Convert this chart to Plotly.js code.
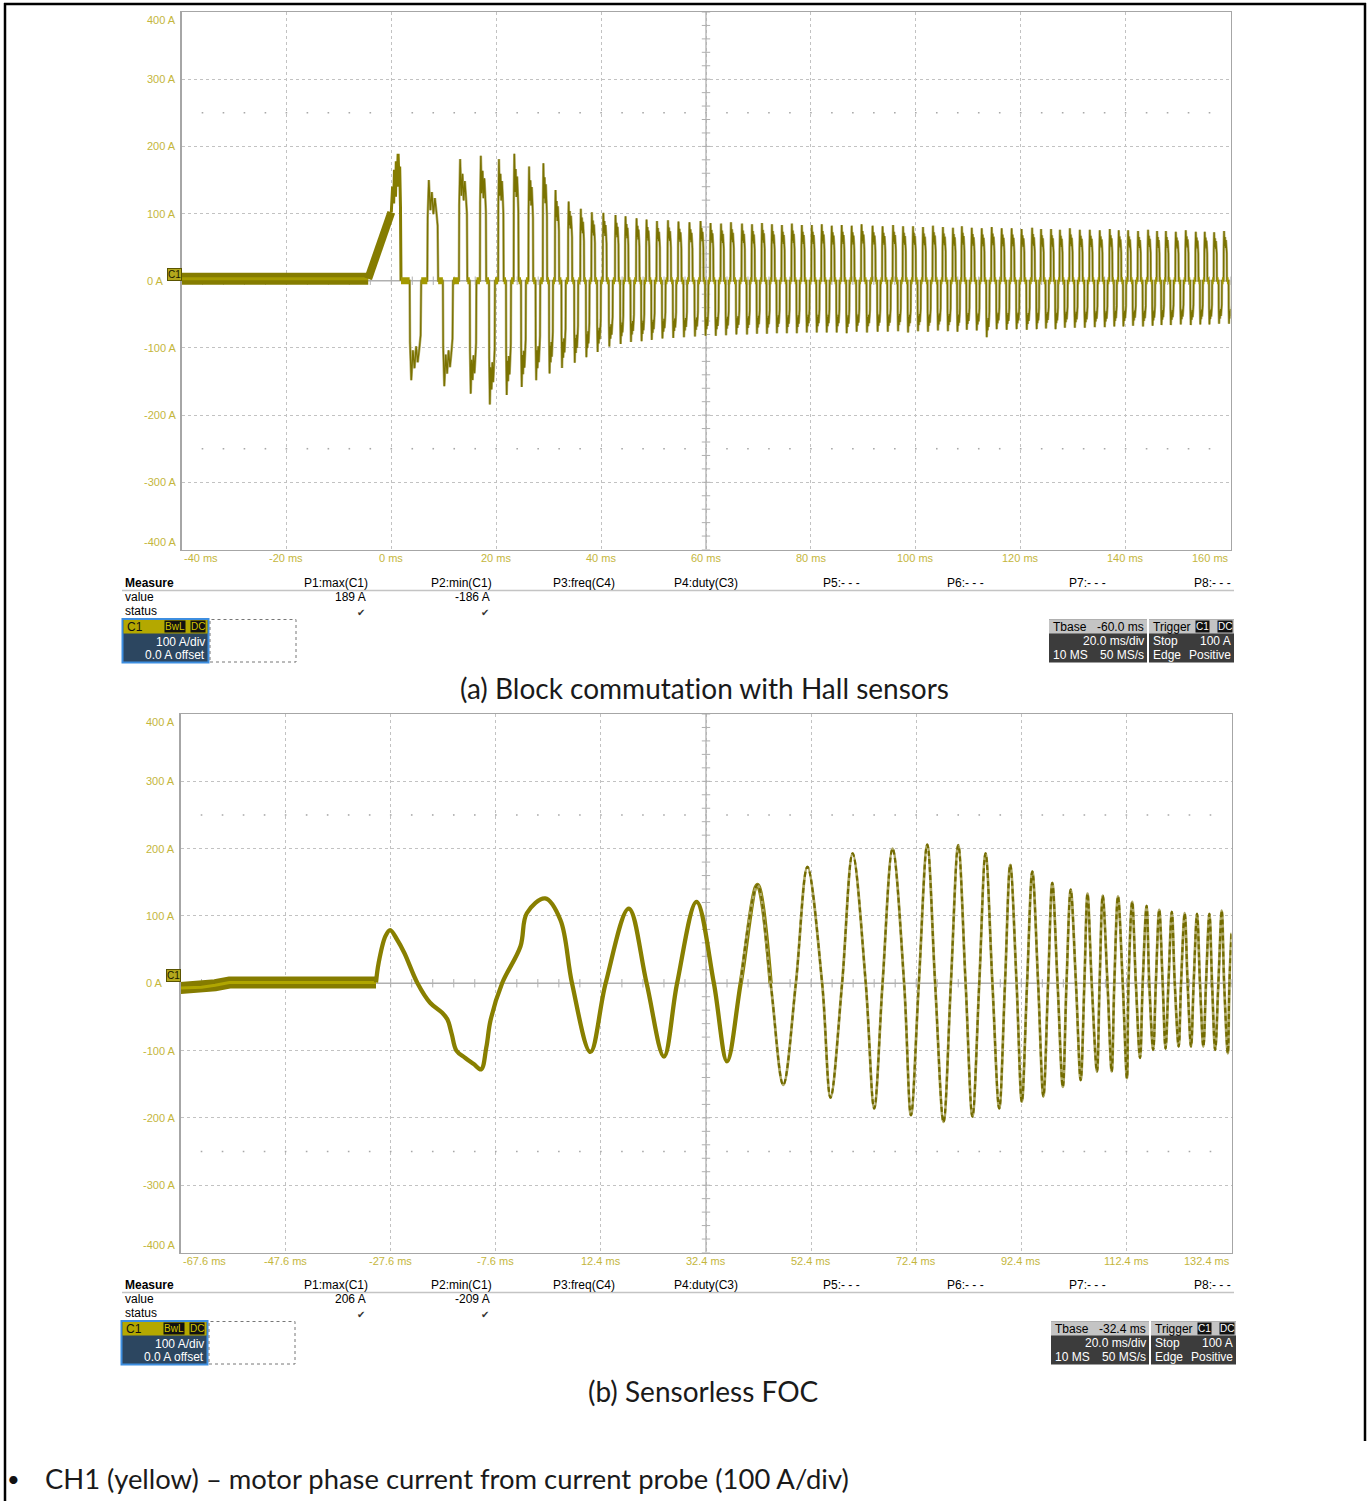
<!DOCTYPE html>
<html><head><meta charset="utf-8">
<script src="https://cdn.plot.ly/plotly-3.0.1.min.js"></script>
<style>html,body{margin:0;padding:0;background:#fff;}#chart{width:1371px;height:1501px;}
text{font-variant-ligatures:none;font-feature-settings:"liga" 0;}</style>
</head><body><div id="chart"></div>
<script>
// ================= DATA =================
// (a) Block commutation with Hall sensors  -- time in ms, current in A
const topBaseT = [-40, -4.4];
const topBaseV = [3, 3];
const topRampT = [-4.4, -3.0, -1.5, 0.0];
const topRampV = [3, 35, 68, 102];
const topBurstT = [0.0, 0.25, 0.45, 0.6, 0.8, 0.95, 1.1, 1.3, 1.45, 1.6, 1.75, 1.85];
const topBurstV = [102, 140, 115, 165, 125, 178, 140, 189, 150, 170, 110, 0];
// centre time of each positive block pulse (ms)
const blockTime = [1.3, 7.9, 13.7, 17.5, 20.9, 23.8, 26.6, 29.3, 31.6, 34.1,
  36.4, 38.5, 40.7, 43.0, 44.9, 47.0, 48.9, 50.9, 53.0, 55.0,
  57.1, 59.2, 61.1, 63.1, 65.0, 67.1, 69.0, 70.9, 72.8, 74.7,
  76.6, 78.5, 80.4, 82.3, 84.2, 86.1, 88.0, 89.9, 92.0, 93.9,
  95.9, 97.8, 99.7, 101.6, 103.5, 105.4, 107.3, 109.0, 110.9, 112.8,
  114.7, 116.6, 118.5, 120.4, 122.4, 124.1, 126.0, 127.7, 129.6, 131.5,
  133.4, 135.3, 137.2, 138.9, 140.7, 142.6, 144.5, 146.2, 147.9, 149.8,
  151.7, 153.6, 155.3, 157.1, 159.0];
// peak of each positive pulse (A)
const blockPosPeak = [189, 150, 181, 186, 181, 189, 170, 175, 135, 118,
  107, 102, 101, 98, 96, 93, 91, 89, 90, 88,
  87, 89, 86, 85, 87, 85, 84, 86, 84, 83,
  85, 83, 83, 84, 82, 83, 82, 84, 82, 81,
  83, 81, 81, 80, 82, 80, 79, 81, 79, 78,
  80, 78, 78, 77, 79, 77, 77, 76, 78, 76,
  76, 75, 77, 75, 75, 74, 76, 74, 74, 73,
  75, 73, 73, 72, 74];
// peak of the negative pulse following each positive pulse (A)
const blockNegPeak = [-148, -157, -168, -184, -170, -158, -148, -138, -130, -122,
  -114, -106, -98, -94, -91, -90, -88, -86, -85, -84,
  -83, -82, -82, -81, -80, -80, -79, -79, -78, -78,
  -78, -77, -77, -77, -77, -78, -76, -77, -76, -76,
  -75, -77, -75, -76, -74, -75, -76, -73, -74, -84,
  -72, -73, -72, -73, -72, -71, -72, -70, -70, -70,
  -69, -69, -68, -68, -67, -68, -67, -66, -66, -65,
  -66, -65, -65, -64, -64];
// typical block-pulse outline: fraction of pulse width / fraction of peak
const pulseShapeU = [0, 0.03, 0.14, 0.28, 0.42, 0.56, 0.7, 0.84, 0.95, 1];
const pulseShapeV = [0, 0.62, 1.0, 0.7, 0.88, 0.66, 0.82, 0.68, 0.55, 0];

// (b) Sensorless FOC
const focBaseT = [-67.6, -63.6, -61.0, -58.3, -30.4];
const focBaseV = [-7, -6, -3, 1, 1];
const focT = [-30.4, -29.9, -28.6, -27.7, -26.4, -25.0, -22.5, -20.1, -17.8, -16.8, -16.0, -15.1, -13.4, -11.8, -10.4, -9.4, -8.6, -6.4, -2.9, -1.7, 1.8, 4.7, 6.9,
  10.4, 13.3, 17.7, 21.1, 24.4, 26.9, 30.6, 33.9, 36.4, 39.0, 42.2, 44.7, 47.1, 49.5, 51.7, 54.5, 56.1, 58.3, 60.3, 62.8, 64.4, 66.0, 67.9, 70.1, 71.4, 72.9, 74.5,
  76.0, 77.6, 79.0, 80.4, 81.8, 83.1, 84.4, 85.6, 86.9, 88.2, 89.3, 90.3, 91.5, 92.5, 93.5, 94.5, 95.6, 96.6, 97.5, 98.3, 99.3, 100.3, 101.0, 101.8, 102.8, 103.7,
  104.4, 105.0, 105.8, 106.8, 107.3, 107.9, 108.8, 109.6, 110.1, 110.8, 111.7, 112.5, 112.8, 113.5, 114.2, 115.0, 115.5, 116.25, 116.75, 117.5, 118.0, 118.65,
  119.3, 119.85, 120.4, 121.05, 121.6, 122.35, 122.8, 123.5, 124.05, 124.7, 125.2, 125.85, 126.4, 127.05, 127.55, 128.2, 128.7, 129.3, 129.9, 130.55, 131.0, 131.7, 132.0, 132.4];
const focV = [1, 30, 70, 79, 65, 45, 0, -29, -44, -54, -75, -100, -111, -120, -128, -95, -55, 0, 55, 104, 126, 94, 0,
  -102, 0, 111, 0, -109, 0, 121, 0, -116, 0, 146, 0, -151, 0, 173, 0, -170, 0, 193, 0, -186, 0, 200, 0, -196, 0, 206,
  0, -206, 0, 205, 0, -198, 0, 193, 0, -186, 0, 176, 0, -176, 0, 166, 0, -168, 0, 149, 0, -154, 0, 139, 0, -144,
  0, 133, 0, -131, 0, 130, 0, -131, 0, 129, 0, -141, 0, 121, 0, -111, 0, 115, 0, -99, 0, 109,
  0, -97, 0, 106, 0, -94, 0, 104, 0, -94, 0, 103, 0, -94, 0, 103, 0, -99, 0, 108, 0, -104, 0, 75];

// axis ticks
const topXTicks = [-40, -20, 0, 20, 40, 60, 80, 100, 120, 140, 160];
const botXTicks = [-67.6, -47.6, -27.6, -7.6, 12.4, 32.4, 52.4, 72.4, 92.4, 112.4, 132.4];
const yTicks = [400, 300, 200, 100, 0, -100, -200, -300, -400];

// measurement panel texts
const measureHeaders = ['P1:max(C1)', 'P2:min(C1)', 'P3:freq(C4)', 'P4:duty(C3)', 'P5:- - -', 'P6:- - -', 'P7:- - -', 'P8:- - -'];
const measureTopValues = ['189 A', '-186 A'];
const measureBotValues = ['206 A', '-209 A'];
const tbaseTop = '-60.0 ms';
const tbaseBot = '-32.4 ms';
const captions = ['(a) Block commutation with Hall sensors', '(b) Sensorless FOC'];
const bulletText = 'CH1 (yellow) \u2013 motor phase current from current probe (100 A/div)';

// ================= BUILD =================
const W = 1371, H = 1501;
const fx = p => p / W, fy = p => 1 - p / H;
const FONT = '"Liberation Sans", Arial, sans-serif';
const CAPFONT = 'Lato, "Noto Sans", sans-serif';
const TICKCOL = '#c4b63c';
const DARK = '#7a7200', LIGHT = '#b8b276';
const GRIDC = '#b0b0b0';

function buildBlockWave() {
  const mx = [], my = [], zx = [], zy = [];
  const n = blockTime.length;
  let prevEnd = topBurstT[topBurstT.length - 1];
  mx.push(prevEnd); my.push(0);
  function zero(a, b) { if (b > a) { mx.push(b); my.push(0); zx.push(a, b, null); zy.push(0, 0, null); } }
  function pulse(a, b, amp) { for (let k = 0; k < pulseShapeU.length; k++) { mx.push(a + (b - a) * pulseShapeU[k]); my.push(amp * pulseShapeV[k]); } }
  for (let i = 0; i < n; i++) {
    const t = blockTime[i];
    const P = (i < n - 1) ? blockTime[i + 1] - t : t - blockTime[i - 1];
    if (i > 0) {
      const Pa = (i < n - 1) ? (blockTime[i + 1] - blockTime[i - 1]) / 2 : P;
      const s = t - Pa / 6, e = t + Pa / 6;
      zero(prevEnd, s); pulse(s, e, blockPosPeak[i]); prevEnd = e;
    }
    const c = t + P / 2, s2 = c - P / 6, e2 = c + P / 6;
    zero(prevEnd, s2); pulse(s2, e2, blockNegPeak[i]); prevEnd = e2;
  }
  return { mx, my, zx, zy };
}
const bw = buildBlockWave();

function decor(xa, ya, x0, x1, xc) {
  const tx = [], ty = [], cx = [], cy = [], dx = [], dy = [];
  for (let k = 0; k <= 50; k++) { tx.push(x0 + (x1 - x0) * k / 50); ty.push(0); }
  for (let k = 0; k <= 40; k++) { cx.push(xc); cy.push(-400 + 20 * k); }
  for (let k = 1; k < 50; k++) { const xv = x0 + (x1 - x0) * k / 50; dx.push(xv, xv); dy.push(250, -250); }
  return [
    { x: dx, y: dy, xaxis: xa, yaxis: ya, mode: 'markers', marker: { symbol: 'square', size: 1.6, color: '#a8a8a8' } },
    { x: [xc, xc], y: [-400, 400], xaxis: xa, yaxis: ya, mode: 'lines', line: { color: GRIDC, width: 1.3 } },
    { x: [x0, x1], y: [0, 0], xaxis: xa, yaxis: ya, mode: 'lines', line: { color: GRIDC, width: 1.3 } },
    { x: tx, y: ty, xaxis: xa, yaxis: ya, mode: 'markers', marker: { symbol: 'line-ns-open', size: 6, color: GRIDC, line: { color: GRIDC, width: 1 } } },
    { x: cx, y: cy, xaxis: xa, yaxis: ya, mode: 'markers', marker: { symbol: 'line-ew-open', size: 6, color: GRIDC, line: { color: GRIDC, width: 1 } } }
  ];
}

const traces = [];
traces.push(...decor('x', 'y', -40, 160, 60));
traces.push(...decor('x2', 'y2', -67.6, 132.4, 32.4));

// top waveform
traces.push({ x: topBaseT, y: topBaseV, xaxis: 'x', yaxis: 'y', mode: 'lines', line: { color: '#857c00', width: 12 } });
traces.push({ x: topBaseT, y: topBaseV, xaxis: 'x', yaxis: 'y', mode: 'lines', line: { color: '#a59b00', width: 3 } });
traces.push({ x: topRampT, y: topRampV, xaxis: 'x', yaxis: 'y', mode: 'lines', line: { color: '#857c00', width: 8 } });
traces.push({ x: topBurstT, y: topBurstV, xaxis: 'x', yaxis: 'y', mode: 'lines', line: { color: '#857c00', width: 3 } });
traces.push({ x: bw.mx, y: bw.my, xaxis: 'x', yaxis: 'y', mode: 'lines', line: { color: LIGHT, width: 2.6 } });
traces.push({ x: bw.mx, y: bw.my, xaxis: 'x', yaxis: 'y', mode: 'lines', line: { color: DARK, width: 1.3 } });
traces.push({ x: bw.zx, y: bw.zy, xaxis: 'x', yaxis: 'y', mode: 'lines', line: { color: '#a39900', width: 7 } });

// bottom waveform
traces.push({ x: focBaseT, y: focBaseV, xaxis: 'x2', yaxis: 'y2', mode: 'lines', line: { color: '#857c00', width: 12 } });
traces.push({ x: focBaseT, y: focBaseV, xaxis: 'x2', yaxis: 'y2', mode: 'lines', line: { color: '#b0a600', width: 3 } });
const split1 = focT.findIndex(t => t >= 44.7);
const split0 = focT.findIndex(t => t >= 39);
traces.push({ x: focT.slice(0, split1 + 1), y: focV.slice(0, split1 + 1), xaxis: 'x2', yaxis: 'y2', mode: 'lines', line: { color: '#887f00', width: 4.3, shape: 'spline', smoothing: 1 } });
traces.push({ x: focT.slice(split0), y: focV.slice(split0), xaxis: 'x2', yaxis: 'y2', mode: 'lines', line: { color: '#aea864', width: 2.8, shape: 'spline', smoothing: 1 } });
traces.push({ x: focT.slice(split0), y: focV.slice(split0), xaxis: 'x2', yaxis: 'y2', mode: 'lines', line: { color: '#736b00', width: 2.2, dash: '5px,3px', shape: 'spline', smoothing: 1 } });

// trigger markers
traces.push({ x: [161.3], y: [100], xaxis: 'x', yaxis: 'y', mode: 'markers', cliponaxis: false, marker: { symbol: 'triangle-left', size: 8, color: '#c2b800' } });
traces.push({ x: [0], y: [-409], xaxis: 'x', yaxis: 'y', mode: 'markers', cliponaxis: false, marker: { symbol: 'triangle-up', size: 8, color: '#b0a600' } });
traces.push({ x: [133.4], y: [100], xaxis: 'x2', yaxis: 'y2', mode: 'markers', cliponaxis: false, marker: { symbol: 'triangle-left', size: 8, color: '#c2b800' } });
traces.push({ x: [0], y: [-410], xaxis: 'x2', yaxis: 'y2', mode: 'markers', cliponaxis: false, marker: { symbol: 'triangle-up', size: 8, color: '#b0a600' } });
traces.forEach(t => { t.hoverinfo = 'skip'; t.showlegend = false; });

function axisX(dom, range, anchor) {
  return { domain: dom, range: range, anchor: anchor, tickmode: 'linear', tick0: range[0], dtick: 20,
    showgrid: true, gridcolor: '#c2c2c2', griddash: 'dot', gridwidth: 1, zeroline: false,
    showline: true, mirror: true, linecolor: '#a6a6a6', linewidth: 1.5, showticklabels: false, ticks: '', fixedrange: true };
}
function axisY(dom, anchor) {
  return { domain: dom, range: [-400, 400], anchor: anchor, tickmode: 'linear', tick0: -400, dtick: 100,
    showgrid: true, gridcolor: '#c2c2c2', griddash: 'dot', gridwidth: 1, zeroline: false,
    showline: true, mirror: true, linecolor: '#a6a6a6', linewidth: 1.5, showticklabels: false, ticks: '', fixedrange: true };
}

const annotations = [], shapes = [];
function txt(text, x, y, o) {
  o = o || {};
  annotations.push(Object.assign({ text: text, x: fx(x), y: fy(y), xref: 'paper', yref: 'paper', showarrow: false,
    xanchor: 'left', yanchor: 'middle', font: { family: FONT, size: 12, color: '#000' } }, o));
}
function rect(x0, y0, x1, y1, fill, line) {
  shapes.push({ type: 'rect', xref: 'paper', yref: 'paper', x0: fx(x0), x1: fx(x1), y0: fy(y1), y1: fy(y0),
    fillcolor: fill, line: line || { width: 0 }, layer: 'above' });
}

// axis tick labels via annotations tied to axis scales
function tickLabels(xa, ya, xt, xlab, plotBottom, yLabelRight, c1y) {
  xt.forEach((v, i) => {
    annotations.push({ text: xlab(v), x: v, y: fy(plotBottom), xref: xa, yref: 'paper', showarrow: false,
      xanchor: i === 0 ? 'left' : (i === xt.length - 1 ? 'right' : 'center'), yanchor: 'top',
      font: { family: FONT, size: 11, color: TICKCOL } });
  });
  yTicks.forEach((v) => {
    annotations.push({ text: v + ' A', x: fx(v === 0 ? yLabelRight - 12 : yLabelRight), y: v, xref: 'paper', yref: ya, showarrow: false,
      xanchor: 'right', yanchor: v === 400 ? 'top' : (v === -400 ? 'bottom' : 'middle'),
      font: { family: FONT, size: 11, color: TICKCOL } });
  });
  annotations.push({ text: 'C1', x: fx(yLabelRight + 4), y: fy(c1y), xref: 'paper', yref: 'paper', showarrow: false,
    xanchor: 'right', yanchor: 'middle', bgcolor: '#b3a81c', bordercolor: '#5a5400', borderwidth: 1, borderpad: 0,
    font: { family: FONT, size: 10, color: '#1a1a00' } });
}
tickLabels('x', 'y', topXTicks, v => v + ' ms', 549.5, 177.5, 274);
tickLabels('x2', 'y2', botXTicks, v => v.toFixed(1) + ' ms', 1252.5, 176.5, 975);

function infoBlock(dy, vals, tbase, dxT, dxC) {
  txt('<b>Measure</b>', 123, 583 + dy);
  txt('value', 123, 597 + dy);
  txt('status', 123, 611 + dy);
  const colRight = [370, 494, 617, 740, 862, 986, 1108, 1233];
  measureHeaders.forEach((h, i) => txt(h, colRight[i], 583 + dy, { xanchor: 'right' }));
  vals.forEach((v, i) => {
    txt(v, colRight[i] - 2, 597 + dy, { xanchor: 'right' });
    txt('\u2714', colRight[i] - 3, 612 + dy, { xanchor: 'right', font: { family: 'DejaVu Sans', size: 10, color: '#333' } });
  });
  shapes.push({ type: 'line', xref: 'paper', yref: 'paper', x0: fx(122), x1: fx(1234), y0: fy(590.5 + dy), y1: fy(590.5 + dy), line: { color: '#c4c4c4', width: 1.5 } });
  // C1 channel box
  rect(122.5 + dxC, 619 + dy, 208.5 + dxC, 662.5 + dy, '#2c4660', { color: '#3d8ee0', width: 2 });
  rect(123.5 + dxC, 620 + dy, 207.5 + dxC, 633.5 + dy, '#b4a800');
  txt('C1', 125 + dxC, 626.5 + dy, { font: { family: FONT, size: 12, color: '#111' } });
  txt('BwL', 185.5 + dxC, 626.5 + dy, { xanchor: 'right', bgcolor: '#111', borderpad: 0, font: { family: FONT, size: 10, color: '#d2c400' } });
  txt('DC', 206 + dxC, 626.5 + dy, { xanchor: 'right', bgcolor: '#111', borderpad: 0, font: { family: FONT, size: 10, color: '#d2c400' } });
  txt('100 A/div', 206.5 + dxC, 641.5 + dy, { xanchor: 'right', font: { family: FONT, size: 12, color: '#fff' } });
  txt('0.0 A offset', 206.5 + dxC, 655 + dy, { xanchor: 'right', font: { family: FONT, size: 12, color: '#fff' } });
  shapes.push({ type: 'rect', xref: 'paper', yref: 'paper', x0: fx(210 + dxC), x1: fx(296 + dxC), y0: fy(662 + dy), y1: fy(619.5 + dy), line: { color: '#777', width: 1, dash: 'dot' }, layer: 'above' });
  // Tbase box
  rect(1049 + dxT, 619.5 + dy, 1147 + dxT, 662.5 + dy, '#3c3c3c');
  rect(1049 + dxT, 619.5 + dy, 1147 + dxT, 633.5 + dy, '#c4c4c4');
  txt('Tbase', 1051 + dxT, 626.5 + dy);
  txt(tbase, 1146 + dxT, 626.5 + dy, { xanchor: 'right' });
  txt('20.0 ms/div', 1146 + dxT, 641 + dy, { xanchor: 'right', font: { family: FONT, size: 12, color: '#fff' } });
  txt('10 MS', 1051 + dxT, 655 + dy, { font: { family: FONT, size: 12, color: '#fff' } });
  txt('50 MS/s', 1146 + dxT, 655 + dy, { xanchor: 'right', font: { family: FONT, size: 12, color: '#fff' } });
  // Trigger box
  rect(1149 + dxT, 619.5 + dy, 1234 + dxT, 662.5 + dy, '#3c3c3c');
  rect(1149 + dxT, 619.5 + dy, 1234 + dxT, 633.5 + dy, '#c4c4c4');
  txt('Trigger', 1151 + dxT, 626.5 + dy);
  txt('C1', 1210 + dxT, 626.5 + dy, { xanchor: 'right', bgcolor: '#111', borderpad: 0, font: { family: FONT, size: 10, color: '#fff' } });
  txt('DC', 1233 + dxT, 626.5 + dy, { xanchor: 'right', bgcolor: '#111', borderpad: 0, font: { family: FONT, size: 10, color: '#fff' } });
  txt('Stop', 1151 + dxT, 641 + dy, { font: { family: FONT, size: 12, color: '#fff' } });
  txt('100 A', 1233 + dxT, 641 + dy, { xanchor: 'right', font: { family: FONT, size: 12, color: '#fff' } });
  txt('Edge', 1151 + dxT, 655 + dy, { font: { family: FONT, size: 12, color: '#fff' } });
  txt('Positive', 1233 + dxT, 655 + dy, { xanchor: 'right', font: { family: FONT, size: 12, color: '#fff' } });
}
infoBlock(0, measureTopValues, tbaseTop, 0, 0);
infoBlock(702, measureBotValues, tbaseBot, 2, -1);

txt(captions[0], 704, 688, { xanchor: 'center', font: { family: CAPFONT, size: 28, color: '#1a1a1a' } });
txt(captions[1], 703, 1391, { xanchor: 'center', font: { family: CAPFONT, size: 28, color: '#1a1a1a' } });
txt('\u2022', 5, 1478, { font: { family: CAPFONT, size: 22, color: '#111' } });
txt(bulletText, 43, 1478, { font: { family: CAPFONT, size: 27.4, color: '#1a1a1a' } });

// page frame
[[4, 4, 1366, 4], [5, 3, 5, 1501], [1365, 3, 1365, 1441]].forEach(l => {
  shapes.push({ type: 'line', xref: 'paper', yref: 'paper', x0: fx(l[0]), y0: fy(l[1]), x1: fx(l[2]), y1: fy(l[3]), line: { color: '#000', width: 2.5 } });
});

const layout = {
  width: W, height: H, margin: { l: 0, r: 0, t: 0, b: 0 }, paper_bgcolor: '#fff', plot_bgcolor: '#fff', showlegend: false,
  xaxis: axisX([fx(181.5), fx(1230.5)], [-40, 160], 'y'),
  yaxis: axisY([fy(549.5), fy(12)], 'x'),
  xaxis2: axisX([fx(180.5), fx(1231.5)], [-67.6, 132.4], 'y2'),
  yaxis2: axisY([fy(1252.5), fy(714)], 'x2'),
  annotations: annotations, shapes: shapes
};
Plotly.newPlot('chart', traces, layout, { displayModeBar: false, staticPlot: true });
</script></body></html>
